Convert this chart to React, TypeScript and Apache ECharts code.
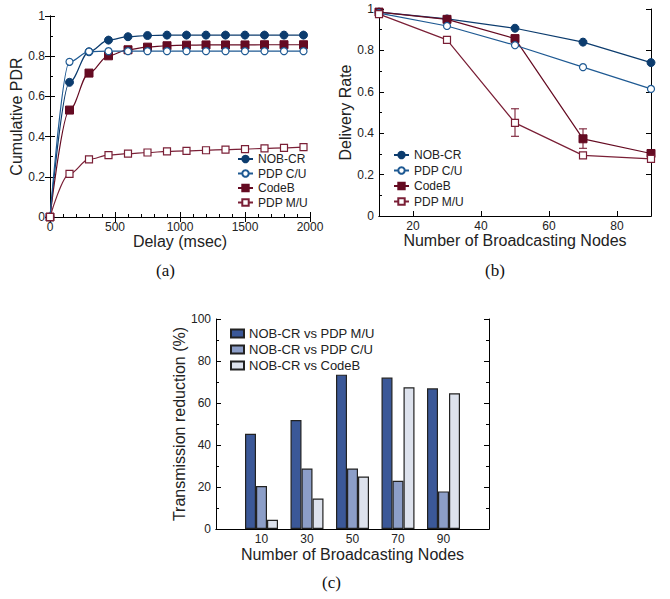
import React, { useEffect, useRef } from 'react';
import * as echarts from 'echarts';

// ---------- Panel (a): cumulative PDR vs delay ----------
const delayX = [0, 150, 300, 450, 600, 750, 900, 1050, 1200, 1350, 1500, 1650, 1800, 1950];
const cumNobCr = [0, 0.67, 0.822, 0.88, 0.897, 0.903, 0.905, 0.905, 0.905, 0.905, 0.905, 0.905, 0.905, 0.905];
const cumPdpCU = [0, 0.772, 0.823, 0.825, 0.825, 0.825, 0.825, 0.825, 0.825, 0.825, 0.825, 0.825, 0.825, 0.825];
const cumCodeB = [0, 0.532, 0.716, 0.802, 0.832, 0.845, 0.852, 0.855, 0.856, 0.856, 0.856, 0.857, 0.857, 0.857];
const cumPdpMU = [0, 0.215, 0.287, 0.308, 0.315, 0.321, 0.326, 0.329, 0.332, 0.335, 0.338, 0.341, 0.344, 0.348];

// ---------- Panel (b): delivery rate vs number of nodes ----------
const nodesX = [10, 30, 50, 70, 90];
const delNobCr = [0.985, 0.952, 0.907, 0.84, 0.741];
const delPdpCU = [0.98, 0.918, 0.825, 0.719, 0.614];
const delCodeB = [0.985, 0.95, 0.857, 0.373, 0.302];
const delPdpMU = [0.975, 0.851, 0.45, 0.293, 0.276];
const errX = [50, 70];
const errLow = [0.385, 0.327];
const errHigh = [0.518, 0.421];

// ---------- Panel (c): transmission reduction ----------
const groupCats = ['10', '30', '50', '70', '90'];
const redVsMU = [45.3, 51.9, 73.5, 72.1, 67];
const redVsCU = [20.5, 28.8, 28.8, 23, 17.9];
const redVsCodeB = [4.4, 14.5, 25, 67.5, 64.6];

const seriesNames = ['NOB-CR', 'PDP C/U', 'CodeB', 'PDP M/U'];
const barNames = ['NOB-CR vs PDP M/U', 'NOB-CR vs PDP C/U', 'NOB-CR vs CodeB'];

const SANS = '"Liberation Sans", Arial, sans-serif';
const SERIF = '"Liberation Serif", "Times New Roman", serif';
const NAVY = '#0c3c6e';
const BLUE = '#1f5a93';
const MAROON = '#650b22';
const MAROON2 = '#7a1f36';
const TXT = '#222';

const zip = (xs: number[], ys: number[]) => xs.map((x, i) => [x, ys[i]]);

function lineSeries(name: string, data: number[][], xi: number, yi: number, kind: string, smooth: boolean) {
  const filled = kind === 'nob' || kind === 'codeb';
  const color = kind === 'nob' ? NAVY : kind === 'cu' ? BLUE : kind === 'codeb' ? MAROON : MAROON2;
  const symbol = kind === 'nob' || kind === 'cu' ? 'circle' : 'rect';
  return {
    type: 'line',
    name,
    xAxisIndex: xi,
    yAxisIndex: yi,
    data,
    smooth: smooth ? 0.35 : false,
    smoothMonotone: 'x',
    symbol,
    symbolSize: filled ? 8 : 7,
    showAllSymbol: true,
    lineStyle: { color, width: 1.2 },
    itemStyle: filled
      ? { color, borderColor: color, borderWidth: 1 }
      : { color: '#ffffff', borderColor: color, borderWidth: 1.2 },
    emphasis: { disabled: true },
    z: filled ? 3 : 4,
  };
}

function baseAxisStyle() {
  return {
    axisLine: { show: true, lineStyle: { color: '#000', width: 1 } },
    splitLine: { show: false },
    axisLabel: { color: TXT, fontSize: 12, fontFamily: SANS, margin: 4 },
    nameTextStyle: { color: TXT, fontSize: 16, fontFamily: SANS },
  };
}

function mirror(axis: any, position: string) {
  return {
    ...axis,
    position,
    name: '',
    axisLabel: { show: false },
  };
}

const decFmt = (v: number) => (v === 0 ? '0' : v === 1 ? '1' : v.toFixed(1));

export default function App() {
  const ref = useRef<HTMLDivElement>(null);
  useEffect(() => {
    if (!ref.current) return;
    const chart = echarts.init(ref.current, undefined, { renderer: 'svg' });

    const tickIn = { show: true, inside: true, length: 5, lineStyle: { color: '#000', width: 1 } };

    const xA = {
      type: 'value', gridIndex: 0, min: 0, max: 2000, interval: 500,
      ...baseAxisStyle(),
      axisTick: tickIn,
      minorTick: { show: true, splitNumber: 5, length: 3, lineStyle: { color: '#000' } },
      axisLabel: { color: TXT, fontSize: 12, fontFamily: SANS, margin: 4, formatter: (v: number) => String(v) },
      name: 'Delay (msec)', nameLocation: 'middle', nameGap: 13,
    };
    const yA = {
      type: 'value', gridIndex: 0, min: 0, max: 1, interval: 0.2,
      ...baseAxisStyle(),
      axisTick: tickIn,
      minorTick: { show: true, splitNumber: 2, length: 3, lineStyle: { color: '#000' } },
      axisLabel: { color: TXT, fontSize: 12, fontFamily: SANS, margin: 5, formatter: decFmt },
      name: 'Cumulative PDR', nameLocation: 'middle', nameGap: 21,
    };
    const xB = {
      type: 'value', gridIndex: 1, min: 10, max: 90, interval: 10,
      ...baseAxisStyle(),
      axisTick: { ...tickIn, customValues: [20, 40, 60, 80] },
      axisLabel: { color: TXT, fontSize: 12, fontFamily: SANS, margin: 4, customValues: [20, 40, 60, 80] },
      name: 'Number of Broadcasting Nodes', nameLocation: 'middle', nameGap: 14,
    };
    const yB = {
      type: 'value', gridIndex: 1, min: 0, max: 1, interval: 0.2,
      ...baseAxisStyle(),
      axisTick: tickIn,
      minorTick: { show: true, splitNumber: 2, length: 3, lineStyle: { color: '#000' } },
      axisLabel: { color: TXT, fontSize: 12, fontFamily: SANS, margin: 5, formatter: decFmt },
      name: 'Delivery Rate', nameLocation: 'middle', nameGap: 21,
    };
    const xC = {
      type: 'category', gridIndex: 2, data: ['', ...groupCats, ''], boundaryGap: false,
      ...baseAxisStyle(),
      axisTick: { show: false },
      name: 'Number of Broadcasting Nodes', nameLocation: 'middle', nameGap: 17,
    };
    const yC = {
      type: 'value', gridIndex: 2, min: 0, max: 100, interval: 20,
      ...baseAxisStyle(),
      axisTick: tickIn,
      minorTick: { show: true, splitNumber: 2, length: 3, lineStyle: { color: '#000' } },
      axisLabel: { color: TXT, fontSize: 12, fontFamily: SANS, margin: 5 },
      name: 'Transmission reduction (%)', nameLocation: 'middle', nameGap: 21,
    };

    const barSeries = (name: string, vals: number[], color: string) => ({
      type: 'bar', name, xAxisIndex: 4, yAxisIndex: 4,
      data: [null, ...vals, null],
      barWidth: 11, barGap: '0%',
      itemStyle: { color, borderColor: '#222', borderWidth: 1.2 },
      emphasis: { disabled: true },
    });

    const legendText = { color: TXT, fontSize: 12, fontFamily: SANS };

    const option: any = {
      animation: false,
      backgroundColor: '#ffffff',
      grid: [
        { left: 50, top: 16, width: 260, height: 201 },
        { left: 379, top: 9, width: 272, height: 207 },
        { left: 216, top: 319, width: 273, height: 210 },
      ],
      xAxis: [
        xA,
        mirror({ ...xA, minorTick: { show: false } }, 'top'),
        xB,
        mirror({ ...xB, axisTick: { show: false } }, 'top'),
        xC,
        mirror(xC, 'top'),
      ],
      yAxis: [
        yA,
        mirror({ ...yA, minorTick: { show: false } }, 'right'),
        yB,
        mirror({ ...yB, minorTick: { show: false } }, 'right'),
        yC,
        mirror(yC, 'right'),
      ],
      legend: [
        {
          data: seriesNames, orient: 'vertical', left: 237, top: 153,
          itemWidth: 15, itemHeight: 8, itemGap: 2.5, textStyle: legendText, selectedMode: false,
          padding: 0,
        },
        {
          data: seriesNames, orient: 'vertical', left: 393, top: 149,
          itemWidth: 15, itemHeight: 8, itemGap: 3.5, textStyle: legendText, selectedMode: false,
          padding: 0,
        },
        {
          data: barNames, orient: 'vertical', left: 230, top: 327, icon: 'rect',
          itemWidth: 13, itemHeight: 8, itemGap: 3,
          textStyle: { ...legendText, fontSize: 13 }, selectedMode: false, padding: 0,
        },
      ],
      series: [
        lineSeries('NOB-CR', zip(delayX, cumNobCr), 0, 0, 'nob', true),
        lineSeries('PDP C/U', zip(delayX, cumPdpCU), 0, 0, 'cu', true),
        lineSeries('CodeB', zip(delayX, cumCodeB), 0, 0, 'codeb', true),
        lineSeries('PDP M/U', zip(delayX, cumPdpMU), 0, 0, 'mu', true),
        lineSeries('NOB-CR', zip(nodesX, delNobCr), 2, 2, 'nob', false),
        lineSeries('PDP C/U', zip(nodesX, delPdpCU), 2, 2, 'cu', false),
        lineSeries('CodeB', zip(nodesX, delCodeB), 2, 2, 'codeb', false),
        lineSeries('PDP M/U', zip(nodesX, delPdpMU), 2, 2, 'mu', false),
        {
          type: 'custom',
          name: 'err',
          xAxisIndex: 2,
          yAxisIndex: 2,
          data: errX.map((x, i) => [x, errLow[i], errHigh[i]]),
          renderItem: (params: any, api: any) => {
            const x = api.value(0);
            const lo = api.coord([x, api.value(1)]);
            const hi = api.coord([x, api.value(2)]);
            const w = 4;
            const style = { stroke: MAROON2, lineWidth: 1.1 };
            return {
              type: 'group',
              children: [
                { type: 'line', shape: { x1: lo[0], y1: lo[1], x2: hi[0], y2: hi[1] }, style },
                { type: 'line', shape: { x1: lo[0] - w, y1: lo[1], x2: lo[0] + w, y2: lo[1] }, style },
                { type: 'line', shape: { x1: hi[0] - w, y1: hi[1], x2: hi[0] + w, y2: hi[1] }, style },
              ],
            };
          },
          z: 2,
        },
        barSeries(barNames[0], redVsMU, '#3b5898'),
        barSeries(barNames[1], redVsCU, '#8c9ec8'),
        barSeries(barNames[2], redVsCodeB, '#dde2ed'),
      ],
      graphic: [
        { type: 'text', left: 156, top: 262, style: { text: '(a)', font: '17px ' + SERIF, fill: '#111' } },
        { type: 'text', left: 485, top: 262, style: { text: '(b)', font: '17px ' + SERIF, fill: '#111' } },
        { type: 'text', left: 322, top: 574, style: { text: '(c)', font: '17px ' + SERIF, fill: '#111' } },
      ],
    };
    chart.setOption(option);
    return () => chart.dispose();
  }, []);

  return (
    <div
      ref={ref}
      style={{ position: 'fixed', left: 0, top: 0, width: 670, height: 599, background: '#fff' }}
    />
  );
}
